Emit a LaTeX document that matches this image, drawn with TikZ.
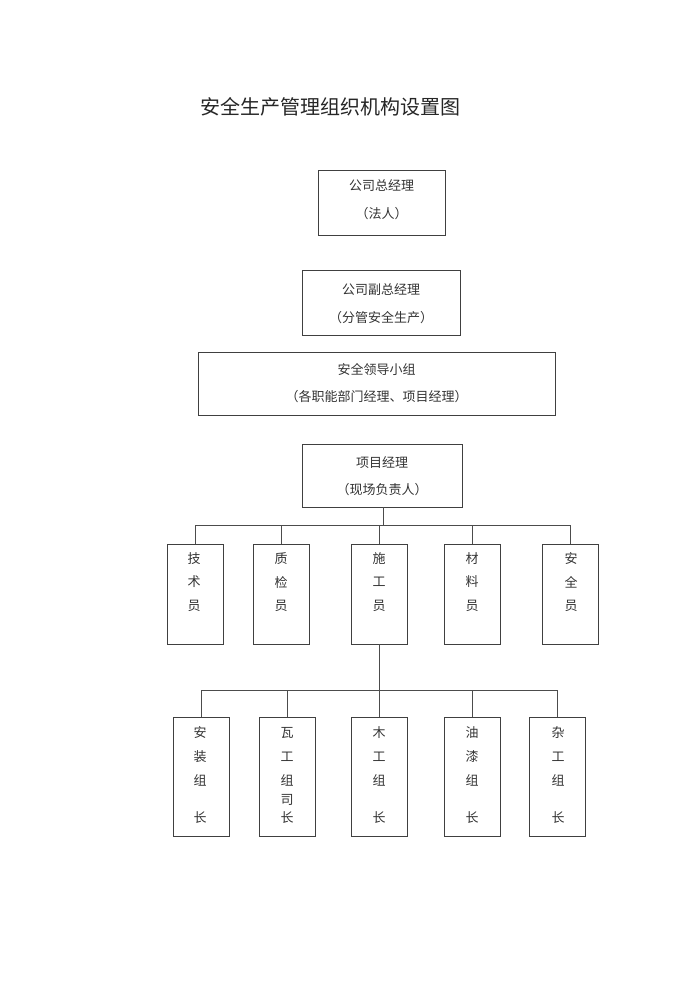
\documentclass[tikz,border=0pt]{standalone}
\usepackage{fontspec}
\setmainfont{Noto Sans CJK SC}
\begin{document}
\begin{tikzpicture}[x=1pt,y=-1pt,
  box/.style={draw=black!75,line width=0.8pt,inner sep=0pt},
  txt/.style={font=\fontsize{13}{16}\selectfont,text=black!80},
  ln/.style={draw=black!70,line width=0.7pt}]
\useasboundingbox (0,0) rectangle (700,989);
\node[txt,font=\fontsize{20}{24}\selectfont,text=black!85] (title) at (330,107) {安全生产管理组织机构设置图};
\newcommand{\bx}[5]{\node[box,minimum width=#3-#1,minimum height=#4-#2] (#5) at ({(#1+#3)/2},{(#2+#4)/2}) {};}
\bx{318}{170}{445}{235}{a}
\node[txt] at (381.5,186) {公司总经理};
\node[txt] at (381.5,214) {（法人）};
\bx{302}{270}{460}{335}{b}
\node[txt] at (381,290) {公司副总经理};
\node[txt] at (381,318) {（分管安全生产）};
\bx{198}{352}{555}{415}{c}
\node[txt] at (376.5,370) {安全领导小组};
\node[txt] at (376.5,397) {（各职能部门经理、项目经理）};
\bx{302}{444}{462}{507}{d}
\node[txt] at (382,463) {项目经理};
\node[txt] at (382,490) {（现场负责人）};
% row 1
\bx{167}{544}{223}{644}{r1}
\bx{253}{544}{309}{644}{r2}
\bx{351}{544}{407}{644}{r3}
\bx{444}{544}{500}{644}{r4}
\bx{542}{544}{598}{644}{r5}
\foreach \x/\a/\b/\c in {194/技/术/员,281/质/检/员,379/施/工/员,472/材/料/员,571/安/全/员}{
  \node[txt] at (\x,559) {\a};\node[txt] at (\x,582) {\b};\node[txt] at (\x,606) {\c};}
% row 2
\bx{173}{717}{229}{836}{s1}
\bx{259}{717}{315}{836}{s2}
\bx{351}{717}{407}{836}{s3}
\bx{444}{717}{500}{836}{s4}
\bx{529}{717}{585}{836}{s5}
\foreach \x/\a/\b in {200/安/装,287/瓦/工,379/木/工,472/油/漆,558/杂/工}{
  \node[txt] at (\x,733) {\a};\node[txt] at (\x,757) {\b};\node[txt] at (\x,780) {组};\node[txt] at (\x,818) {长};}
\node[txt] at (287,800) {司};
% connectors
\coordinate (h1) at (383,525);
\coordinate (h2) at (383,690);
\draw[ln] (d.south -| h1) -- (h1);
\draw[ln] (r1.north |- h1) -- (r5.north |- h1);
\foreach \n in {r1,r2,r3,r4,r5} \draw[ln] (\n.north |- h1) -- (\n.north);
\draw[ln] (r3.south) -- (r3.south |- h2);
\draw[ln] (s1.north |- h2) -- (s5.north |- h2);
\foreach \n in {s1,s2,s3,s4,s5} \draw[ln] (\n.north |- h2) -- (\n.north);
\end{tikzpicture}
\end{document}
